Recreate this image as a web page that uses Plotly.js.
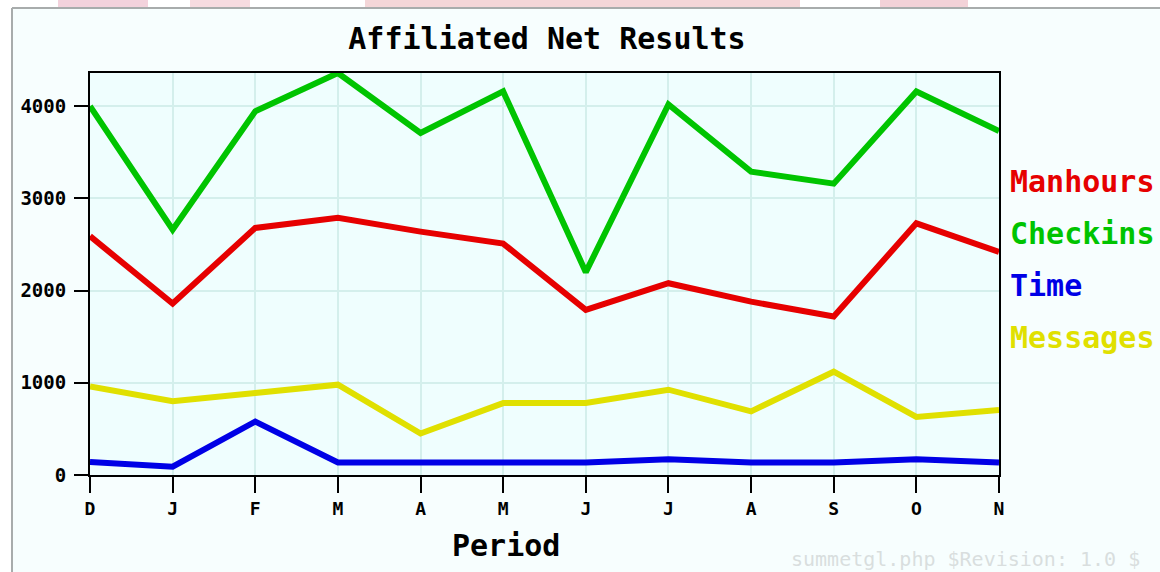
<!DOCTYPE html>
<html>
<head>
<meta charset="utf-8">
<script src="https://cdn.plot.ly/plotly-3.0.1.min.js"></script>
<style>
  html, body { margin: 0; padding: 0; background: #ffffff; }
  #chart { width: 1160px; height: 572px; }
</style>
</head>
<body>
<div id="chart"></div>
<script>
// ---- data ----
const months   = ['D','J','F','M','A','M','J','J','A','S','O','N'];
const manhours = [2590, 1860, 2680, 2790, 2640, 2510, 1790, 2080, 1880, 1720, 2730, 2420];
const checkins = [4000, 2660, 3945, 4360, 3710, 4160, 2200, 4020, 3290, 3160, 4160, 3730];
const timeVals = [140, 90, 580, 135, 135, 135, 135, 170, 135, 135, 170, 135];
const messages = [960, 800, 890, 980, 450, 780, 780, 925, 690, 1120, 630, 705];
const seriesNames = ['Manhours', 'Checkins', 'Time', 'Messages'];
const yTickVals = [0, 1000, 2000, 3000, 4000];
const xAxisTitle = 'Period';
const footerText = 'summetgl.php $Revision: 1.0 $';

// ---- styling ----
const colors = ['#e60000', '#00c400', '#0000e6', '#e0e000'];
const W = 1160, H = 572;
const M = {l: 90, r: 161, t: 73, b: 97};
const plotW = W - M.l - M.r, plotH = H - M.t - M.b;
const px = x => (x - M.l) / plotW;          // pixel -> paper x
const py = y => (H - M.b - y) / plotH;       // pixel -> paper y

const xIdx = months.map((_, i) => i);
const mono = '"DejaVu Sans Mono", "Liberation Mono", monospace';

const allSeries = [manhours, checkins, timeVals, messages];
const traces = allSeries.map((vals, k) => ({
  type: 'scatter',
  mode: 'lines',
  x: xIdx,
  y: vals,
  name: seriesNames[k],
  line: {color: colors[k], width: 6, shape: 'linear'},
  hoverinfo: 'x+y+name'
}));

const legendYs = [181, 233, 285, 337];
const annotations = seriesNames.map((n, k) => ({
  xref: 'paper', yref: 'paper',
  x: px(1008), y: py(legendYs[k]),
  xanchor: 'left', yanchor: 'middle',
  text: n, showarrow: false,
  font: {family: mono, size: 30, color: colors[k], weight: 'bold'}
}));
annotations.push({
  xref: 'paper', yref: 'paper',
  x: px(506), y: py(545),
  xanchor: 'center', yanchor: 'middle',
  text: xAxisTitle, showarrow: false,
  font: {family: mono, size: 30, color: '#000000', weight: 'bold'}
});
annotations.push({
  xref: 'paper', yref: 'paper',
  x: px(1142), y: py(559),
  xanchor: 'right', yanchor: 'middle',
  text: footerText, showarrow: false,
  font: {family: mono, size: 20, color: '#d9dede'}
});

const shapes = [
  // left white strip
  {type: 'rect', xref: 'paper', yref: 'paper', x0: px(0), x1: px(12), y0: py(H), y1: py(0),
   fillcolor: '#ffffff', line: {width: 0}, layer: 'below'},
  // top strip
  {type: 'rect', xref: 'paper', yref: 'paper', x0: px(0), x1: px(W), y0: py(8), y1: py(0),
   fillcolor: '#ffffff', line: {width: 0}, layer: 'below'},
  // faint pink page fragments above the frame
  {type: 'rect', xref: 'paper', yref: 'paper', x0: px(58), x1: px(148), y0: py(7), y1: py(0),
   fillcolor: '#f3d2dc', line: {width: 0}, layer: 'below'},
  {type: 'rect', xref: 'paper', yref: 'paper', x0: px(190), x1: px(250), y0: py(7), y1: py(0),
   fillcolor: '#f6dbe0', line: {width: 0}, layer: 'below'},
  {type: 'rect', xref: 'paper', yref: 'paper', x0: px(365), x1: px(800), y0: py(7), y1: py(0),
   fillcolor: '#f4d6d8', line: {width: 0}, layer: 'below'},
  {type: 'rect', xref: 'paper', yref: 'paper', x0: px(880), x1: px(968), y0: py(7), y1: py(0),
   fillcolor: '#f3d2d8', line: {width: 0}, layer: 'below'},
  // gray frame
  {type: 'line', xref: 'paper', yref: 'paper', x0: px(12), x1: px(12), y0: py(8), y1: py(H),
   line: {color: '#a8acac', width: 2}},
  {type: 'line', xref: 'paper', yref: 'paper', x0: px(12), x1: px(W), y0: py(8), y1: py(8),
   line: {color: '#a8acac', width: 2}}
];

const layout = {
  width: W, height: H,
  margin: M,
  paper_bgcolor: '#f7fefe',
  plot_bgcolor: '#effefe',
  showlegend: false,
  title: {
    text: 'Affiliated Net Results',
    x: 547 / W, xanchor: 'center',
    y: 1 - 38 / H, yanchor: 'middle',
    font: {family: mono, size: 30, color: '#000000', weight: 'bold'}
  },
  xaxis: {
    range: [0, 11],
    tickvals: xIdx,
    ticktext: months,
    showgrid: true, gridcolor: '#d4efec', gridwidth: 2,
    zeroline: false,
    showline: true, linecolor: '#000000', linewidth: 2, mirror: true,
    ticks: 'outside', ticklen: 16, tickwidth: 2, tickcolor: '#000000',
    tickfont: {family: mono, size: 18, color: '#000000', weight: 'bold'}
  },
  yaxis: {
    range: [0, 4360],
    tickvals: yTickVals,
    ticktext: yTickVals.map(String),
    showgrid: true, gridcolor: '#d4efec', gridwidth: 2,
    zeroline: false,
    showline: true, linecolor: '#000000', linewidth: 2, mirror: true,
    ticks: 'outside', ticklen: 14, tickwidth: 2, tickcolor: '#000000',
    tickfont: {family: mono, size: 19, color: '#000000', weight: 'bold'},
    ticklabelstandoff: 4
  },
  annotations: annotations,
  shapes: shapes
};

Plotly.newPlot('chart', traces, layout, {displayModeBar: false, staticPlot: true});
</script>
</body>
</html>
